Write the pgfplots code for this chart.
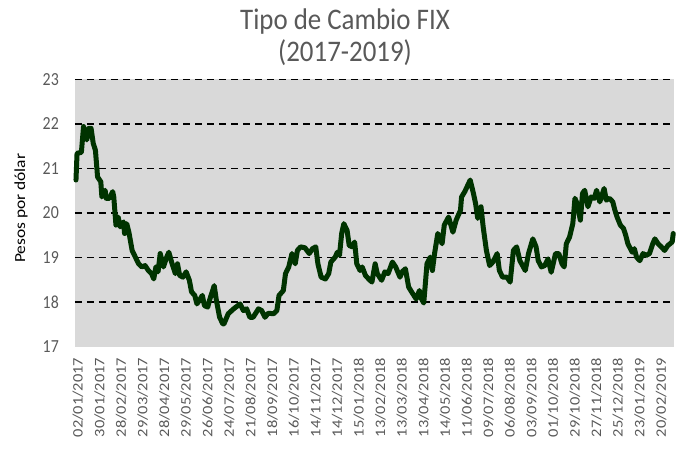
\documentclass[border=0pt]{standalone}
\usepackage{pgfplots}
\pgfplotsset{compat=1.18}
\usepackage{graphicx}
\usepackage{fontspec}
\setmainfont{Carlito}
\definecolor{bgGray}{HTML}{D9D9D9}
\definecolor{txtGray}{HTML}{595959}
\definecolor{lineGreen}{HTML}{003300}
\newcommand\sq[1]{\scalebox{0.86}[1]{#1}}
\newcommand\xl[1]{\scalebox{1}[0.88]{#1}}
\begin{document}
\begin{tikzpicture}
\path[use as bounding box] (-75bp,-110.3bp) rectangle (622bp,346.7bp);
\begin{axis}[
  at={(0,0)}, anchor=south west,
  scale only axis, width=599bp, height=267.4bp,
  xmin=-0.9, xmax=553.7, ymin=17, ymax=23,
  clip=false,
  axis background/.style={fill=bgGray},
  axis line style={draw=none},
  major tick length=0pt,
  ytick={17,18,19,20,21,22,23},
  yticklabels={\sq{17},\sq{18},\sq{19},\sq{20},\sq{21},\sq{22},\sq{23}},
  yticklabel style={font=\fontsize{18.5}{20}\selectfont, text=txtGray, inner sep=0pt, anchor=east, xshift=-16bp},
  extra y ticks={18,19,20,21,22,23},
  extra y tick labels={},
  extra y tick style={grid=major},
  major grid style={black, line width=1.3bp, dash pattern=on 7bp off 5bp},
  xtick={0,20,...,540},
  xticklabels={\xl{02/01/2017},\xl{30/01/2017},\xl{28/02/2017},\xl{29/03/2017},\xl{28/04/2017},\xl{29/05/2017},\xl{26/06/2017},\xl{24/07/2017},\xl{21/08/2017},\xl{18/09/2017},\xl{16/10/2017},\xl{14/11/2017},\xl{14/12/2017},\xl{15/01/2018},\xl{13/02/2018},\xl{13/03/2018},\xl{13/04/2018},\xl{14/05/2018},\xl{11/06/2018},\xl{09/07/2018},\xl{06/08/2018},\xl{03/09/2018},\xl{01/10/2018},\xl{29/10/2018},\xl{27/11/2018},\xl{25/12/2018},\xl{23/01/2019},\xl{20/02/2019}},
  xticklabel style={font=\fontsize{16.5}{18}\selectfont, text=txtGray, inner sep=0pt, yshift=-11bp, xshift=2bp, rotate=90, anchor=east},
]
\addplot[lineGreen, line width=5bp, line join=round, line cap=round, mark=none] coordinates {
(0,20.74) (1,21.34) (5,21.36) (7,21.94) (10,21.64) (12,21.90) (14,21.90) (16,21.56) (18,21.41)
(20,20.81) (23,20.70) (24,20.36) (27,20.51) (28,20.33) (31,20.33) (34,20.48) (35,20.36)
(37,19.73) (39,19.91) (41,19.69) (44,19.80) (45,19.54) (47,19.76) (49,19.57) (52,19.16)
(55,19.01) (58,18.86) (61,18.79) (64,18.82) (67,18.71) (70,18.64) (72,18.52) (74,18.79)
(76,18.68) (78,19.09) (81,18.79) (84,19.01) (86,19.12) (89,18.86) (92,18.64) (94,18.86)
(96,18.60) (99,18.56) (102,18.68) (105,18.49) (107,18.23) (110,18.15) (112,17.96) (115,18.07)
(117,18.15) (119,17.92) (122,17.89) (124,18.07) (128,18.37) (130,18.04) (133,17.66) (136,17.51)
(137,17.51) (141,17.74) (146,17.85) (152,17.96) (155,17.81) (158,17.85) (161,17.66) (164,17.66)
(169,17.85) (172,17.81) (175,17.66) (178,17.75) (183,17.74) (186,17.81) (188,18.15) (192,18.26)
(194,18.64) (197,18.79) (200,19.09) (203,18.86) (205,19.16) (208,19.24) (212,19.22) (216,19.09)
(219,19.20) (222,19.24) (224,18.86) (227,18.56) (231,18.52) (234,18.64) (236,18.90) (240,19.01)
(242,19.12) (244,19.05) (246,19.54) (248,19.76) (251,19.61) (253,19.27) (256,19.24) (258,19.35)
(260,18.86) (263,18.71) (265,18.79) (268,18.60) (271,18.52) (274,18.45) (277,18.86) (279,18.64)
(283,18.49) (286,18.68) (289,18.64) (293,18.90) (296,18.79) (300,18.56) (302,18.68) (305,18.75)
(308,18.34) (311,18.22) (315,18.07) (318,18.26) (320,18.07) (322,17.98) (325,18.86) (328,19.01)
(330,18.71) (332,19.09) (335,19.54) (339,19.31) (341,19.73) (345,19.91) (349,19.57) (352,19.84)
(356,20.06) (357,20.36) (360,20.48) (365,20.74) (368,20.44) (370,20.21) (372,19.88) (375,20.14)
(377,19.69) (380,19.16) (383,18.82) (386,18.90) (390,19.09) (392,18.71) (395,18.56) (399,18.56)
(402,18.45) (405,19.16) (408,19.24) (411,18.93) (416,18.71) (419,19.09) (423,19.42) (426,19.24)
(428,18.93) (431,18.79) (434,18.82) (437,18.97) (440,18.67) (444,19.09) (447,19.09) (450,18.86)
(452,18.79) (454,19.31) (457,19.46) (460,19.76) (462,20.33) (464,20.21) (467,19.84) (469,20.44)
(471,20.51) (474,20.14) (477,20.36) (480,20.33) (482,20.51) (485,20.25) (487,20.40) (489,20.55)
(491,20.29) (494,20.33) (497,20.25) (499,20.06) (501,19.91) (504,19.73) (507,19.65) (509,19.50)
(511,19.31) (515,19.12) (517,19.20) (519,19.01) (522,18.93) (525,19.09) (528,19.05) (531,19.09)
(534,19.31) (536,19.42) (539,19.31) (542,19.24) (545,19.16) (548,19.27) (552,19.35) (553,19.54)
};
\end{axis}
\node[font=\fontsize{30}{36}\selectfont, text=txtGray, anchor=base] at (270bp,317.5bp) {\scalebox{0.9}[1]{Tipo de Cambio FIX}};
\node[font=\fontsize{30}{36}\selectfont, text=txtGray, anchor=base] at (270bp,285bp) {\scalebox{0.9}[1]{(2017-2019)}};
\node[font=\fontsize{17.5}{20}\selectfont, text=black, rotate=90, anchor=center] at (-54bp,138.5bp) {\scalebox{1}[0.88]{Pesos por dólar}};
\end{tikzpicture}
\end{document}
